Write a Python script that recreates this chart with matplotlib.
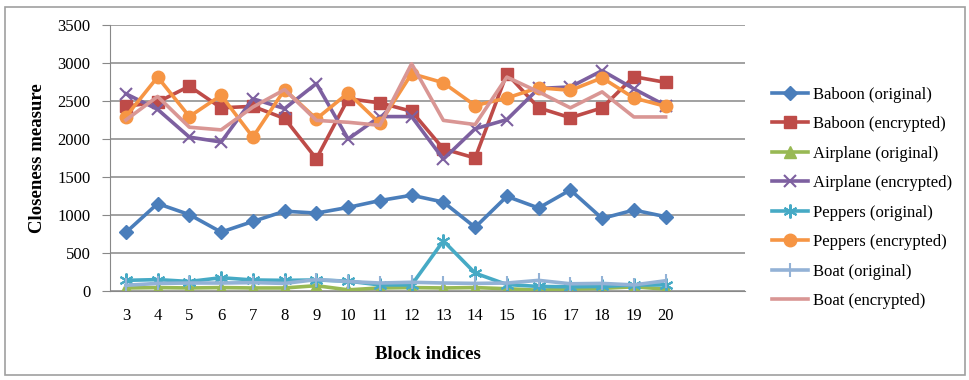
import numpy as np
import matplotlib.pyplot as plt
from matplotlib.patches import Rectangle

plt.rcParams['font.family'] = ['Liberation Serif', 'DejaVu Serif']

blocks = list(range(3, 21))

baboon_orig = [770, 1150, 1005, 775, 915, 1050, 1025, 1100, 1190, 1260, 1170, 838, 1245, 1092, 1330, 955, 1065, 978]
baboon_enc = [2430, 2485, 2695, 2410, 2430, 2270, 1740, 2530, 2475, 2365, 1870, 1750, 2860, 2410, 2280, 2410, 2820, 2745]
airplane_orig = [40, 45, 40, 45, 40, 40, 70, 15, 40, 45, 40, 45, 30, 10, 25, 35, 55, 25]
airplane_enc = [2595, 2390, 2025, 1960, 2530, 2400, 2730, 2000, 2295, 2295, 1735, 2135, 2255, 2665, 2685, 2900, 2660, 2440]
peppers_orig = [140, 150, 125, 175, 145, 140, 145, 130, 80, 80, 660, 235, 85, 60, 55, 60, 80, 80]
peppers_enc = [2295, 2815, 2295, 2575, 2025, 2650, 2265, 2605, 2205, 2860, 2740, 2440, 2540, 2675, 2640, 2805, 2540, 2430]
boat_orig = [75, 100, 105, 105, 110, 100, 150, 125, 105, 115, 105, 100, 105, 140, 95, 100, 80, 135]
boat_enc = [2250, 2560, 2155, 2120, 2420, 2650, 2245, 2220, 2180, 2990, 2245, 2190, 2815, 2620, 2410, 2620, 2290, 2290]

series = [
    ("Baboon (original)", baboon_orig, "#4A7EBB", "D", 7),
    ("Baboon (encrypted)", baboon_enc, "#BE4B48", "s", 8),
    ("Airplane (original)", airplane_orig, "#98B954", "^", 8),
    ("Airplane (encrypted)", airplane_enc, "#7D60A0", "x", 9),
    ("Peppers (original)", peppers_orig, "#46AAC5", (6, 2, 0), 10),
    ("Peppers (encrypted)", peppers_enc, "#F69544", "o", 9),
    ("Boat (original)", boat_orig, "#93B2D6", "|", 10),
    ("Boat (encrypted)", boat_enc, "#D99694", None, 0),
]

fig = plt.figure(figsize=(9.7, 3.8), dpi=100)
ax = fig.add_axes([110 / 970, 1 - 291 / 380, 635 / 970, 266 / 380])

# outer chart border
fig.patches.append(Rectangle((5 / 970, 5 / 380), 960 / 970, 368 / 380,
                             transform=fig.transFigure, fill=False,
                             edgecolor="#A0A0A0", linewidth=1.2))

handles = []
for name, vals, color, marker, ms in series:
    mew = 1.5 if marker in ("x", "|", (6, 2, 0)) else 1
    h, = ax.plot(blocks, vals, color=color, linewidth=2.6, marker=marker,
                 markersize=ms, markeredgewidth=mew, markeredgecolor=color,
                 markerfacecolor=color, label=name)
    handles.append(h)

ax.set_xlim(2.5, 22.5)
ax.set_ylim(0, 3500)
ax.set_xticks(blocks)
ax.set_xticklabels([str(b) for b in blocks])
ax.set_yticks(np.arange(0, 3501, 500))
ax.yaxis.grid(True, color="#888888", linewidth=1.1)
ax.set_axisbelow(True)

for s in ("top", "right"):
    ax.spines[s].set_visible(False)
ax.spines["left"].set_color("#888888")
ax.spines["bottom"].set_color("#888888")
ax.tick_params(axis="y", length=6, color="#888888", labelsize=12, pad=8)
ax.tick_params(axis="x", length=0, labelsize=12, pad=12)

ax.set_xlabel("Block indices", fontsize=13.5, fontweight="bold", labelpad=16)
ax.set_ylabel("Closeness measure", fontsize=13.5, fontweight="bold", labelpad=8)

fig.legend(handles=handles, loc="upper left", bbox_to_anchor=(765 / 970, 1 - 80 / 380),
           frameon=False, fontsize=12, handlelength=2.2, handletextpad=0.3,
           labelspacing=0.81, borderaxespad=0)

fig.savefig("out.png", dpi=100)
